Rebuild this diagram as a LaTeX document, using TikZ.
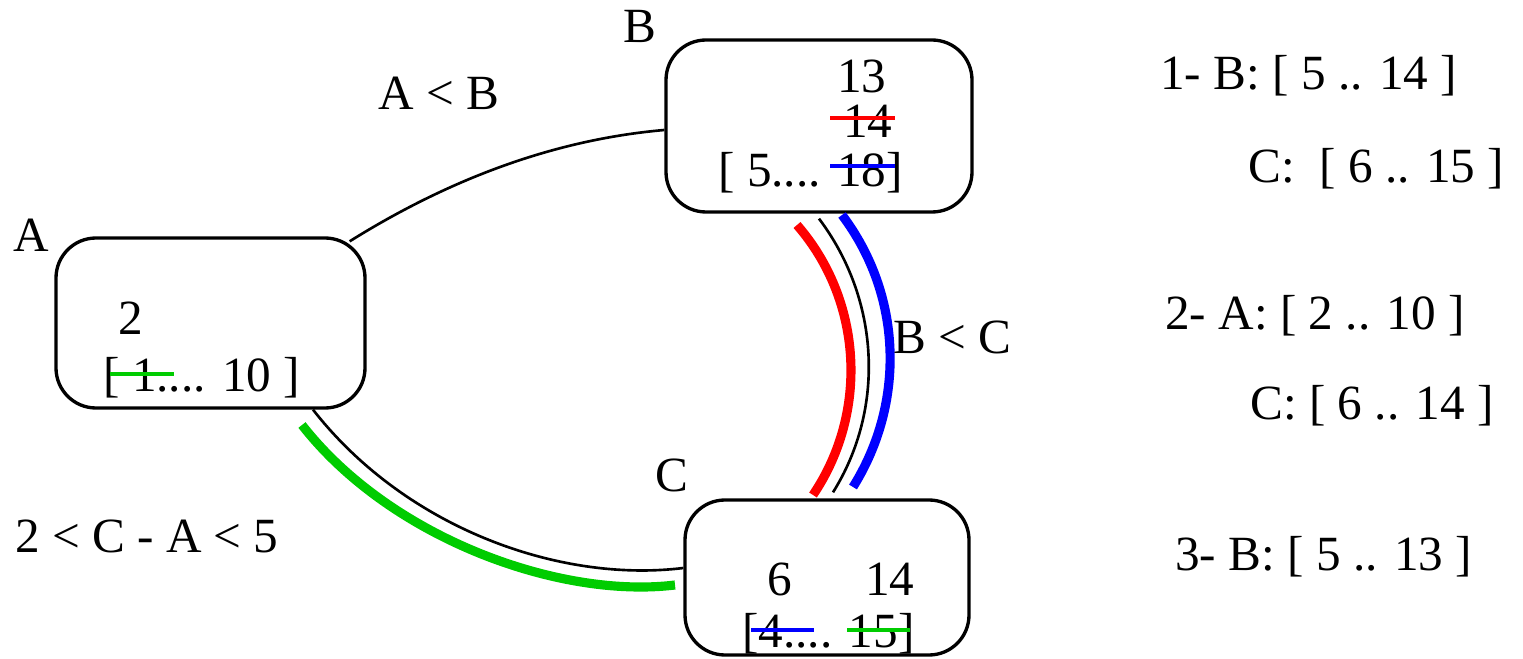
\documentclass[tikz,border=0pt]{standalone}
\usepackage{fontspec}
\setmainfont{Liberation Serif}
\usetikzlibrary{calc}
\definecolor{hlgreen}{RGB}{0,204,0}
\begin{document}
\begin{tikzpicture}[box/.style={draw,line width=1.9pt,rounded corners=0.8cm,inner sep=0},
  txt/.style={anchor=base west,inner sep=0,font=\fontsize{28}{34}\selectfont},
  link/.style={line width=1.5pt}, hl/.style={line width=5.2pt}, strike/.style={line width=2.2pt}]
\useasboundingbox (0,0) rectangle (30.46,13.16);
\node[box,minimum width=6.18cm,minimum height=3.4cm] (boxA) at (4.21,6.7) {};
\node[box,minimum width=6.12cm,minimum height=3.44cm] (boxB) at (16.38,10.64) {};
\node[box,minimum width=5.68cm,minimum height=3.1cm] (boxC) at (16.54,1.61) {};
\node[txt] (nameA) at (0.26,8.12) {A};
\node[txt] (nameB) at (12.46,12.3) {B};
\node[txt] (nameC) at (13.1,3.32) {C};
\draw[hl,hlgreen] (6.04,4.66) .. controls +(-52:2.9) and +(187:2.3) .. (13.5,1.46);
\draw[hl,red] (15.94,8.66) .. controls +(-49:2) and +(56:2) .. (16.26,3.26);
\draw[hl,blue] (16.84,8.86) .. controls +(-53:2) and +(58:2) .. (17.06,3.42);
\draw[link] ([xshift=-0.34cm,yshift=-0.1cm]boxA.north east) .. controls +(32:2.8) and +(185:1.8) .. ([yshift=-0.08cm]boxB.west);
\draw[link] ([xshift=2.05cm]boxA.south) .. controls +(-52:3) and +(187:2.5) .. ([yshift=0.19cm]boxC.west);
\draw[link] ([yshift=-0.1cm]boxB.south) .. controls +(-53:2) and +(58:2) .. ([xshift=0.12cm,yshift=0.12cm]boxC.north);
\node[txt] (relAB) at (7.56,10.96) {A < B};
\node[txt] (relBC) at (17.86,6.08) {B < C};
\node[txt] (relCA) at (0.3,2.12) {2 < C - A < 5};
\node[txt] (b13) at (16.74,11.3) {13};
\node[txt] (b14) at (16.86,10.4) {14};
\node[txt] (bint) at (14.36,9.42) {[ 5.... 18]};
\node[txt] (a2) at (2.36,6.46) {2};
\node[txt] (aint) at (2.06,5.32) {[ 1.... 10 ]};
\node[txt] (c6) at (15.34,1.26) {6};
\node[txt] (c14) at (17.3,1.26) {14};
\node[txt] (cint) at (14.84,0.22) {[4.... 15]};
\draw[strike,red] (16.6,10.8) -- (17.9,10.8);
\draw[strike,blue] (16.6,9.84) -- (17.9,9.84);
\draw[strike,hlgreen] (2.2,5.68) -- (3.48,5.68);
\draw[strike,blue] (15.02,0.56) -- (16.28,0.56);
\draw[strike,hlgreen] (16.94,0.56) -- (18.2,0.56);
\node[txt] (step1) at (23.2,11.36) {1- B: [ 5 .. 14 ]};
\node[txt] (step1c) at (24.96,9.5) {C:~ [ 6 .. 15 ]};
\node[txt] (step2) at (23.3,6.56) {2- A: [ 2 .. 10 ]};
\node[txt] (step2c) at (25.0,4.76) {C: [ 6 .. 14 ]};
\node[txt] (step3) at (23.5,1.76) {3- B: [ 5 .. 13 ]};
\end{tikzpicture}
\end{document}
